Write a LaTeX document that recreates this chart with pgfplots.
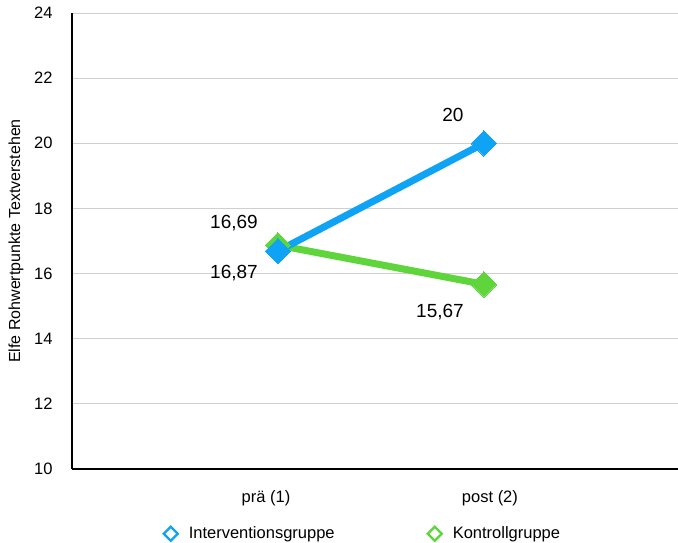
\documentclass[border=0pt]{standalone}
\usepackage{pgfplots}
\pgfplotsset{compat=1.18}
\usepackage{fontspec}
\setmainfont{Liberation Sans}
\definecolor{cblue}{HTML}{0FA3F5}
\definecolor{cgreen}{HTML}{5ED63B}
\definecolor{cgrid}{HTML}{CFCFCF}
\begin{document}
\begin{tikzpicture}[x=1pt,y=1pt]
\useasboundingbox (0,0) rectangle (678,543);
\begin{axis}[
  at={(72pt,74pt)}, anchor=south west,
  scale only axis, width=606pt, height=456pt,
  xmin=-1, xmax=1.942, ymin=10, ymax=24,
  ytick={10,12,...,24},
  xtick={0,1}, xticklabels={prä (1)\hspace*{24pt}, \hspace*{12pt}post (2)},
  axis x line*=bottom, axis y line*=left,
  axis line style={black, line width=1.3pt},
  x axis line style={-}, y axis line style={-},
  major tick length=0pt,
  ymajorgrids, grid style={cgrid, line width=0.9pt},
  tick label style={font=\fontsize{16.5}{18}\selectfont},
  yticklabel style={xshift=-16pt},
  xticklabel style={yshift=-18pt},
  /pgf/number format/assume math mode=true,
  ylabel={Elfe Rohwertpunkte Textverstehen},
  every axis y label/.style={at={(axis description cs:0,0.5)}, rotate=90, anchor=center, yshift=56pt, font=\fontsize{16}{18}\selectfont},
  clip=false,
  reverse legend,
  legend columns=2,
  legend style={draw=none, at={(0.48,-0.142)}, anchor=center,
    font=\fontsize{16.5}{18}\selectfont,
    /tikz/every odd column/.append style={column sep=9pt},
    /tikz/every even column/.append style={column sep=91pt}},
  legend image code/.code={\draw[#1, mark=square, mark size=5pt, mark options={rotate=45, fill=none, line width=2.3pt}] plot coordinates {(0.3cm,0cm)};},
]
\addplot[cgreen, line width=7pt, mark=square*, mark size=9pt, mark options={rotate=45, line width=0pt}] coordinates {(0,16.87) (1,15.67)};
\addlegendentry{Kontrollgruppe}
\addplot[cblue, line width=7pt, mark=square*, mark size=9pt, mark options={rotate=45, line width=0pt}] coordinates {(0,16.69) (1,20)};
\addlegendentry{Interventionsgruppe}
\node[font=\fontsize{19}{21}\selectfont] at (axis cs:0,16.69) [xshift=-44pt, yshift=28pt] {16,69};
\node[font=\fontsize{19}{21}\selectfont] at (axis cs:0,16.69) [xshift=-44pt, yshift=-22pt] {16,87};
\node[font=\fontsize{19}{21}\selectfont] at (axis cs:1,20) [xshift=-31pt, yshift=28pt] {20};
\node[font=\fontsize{19}{21}\selectfont] at (axis cs:1,15.67) [xshift=-44pt, yshift=-28pt] {15,67};
\end{axis}
\end{tikzpicture}
\end{document}
